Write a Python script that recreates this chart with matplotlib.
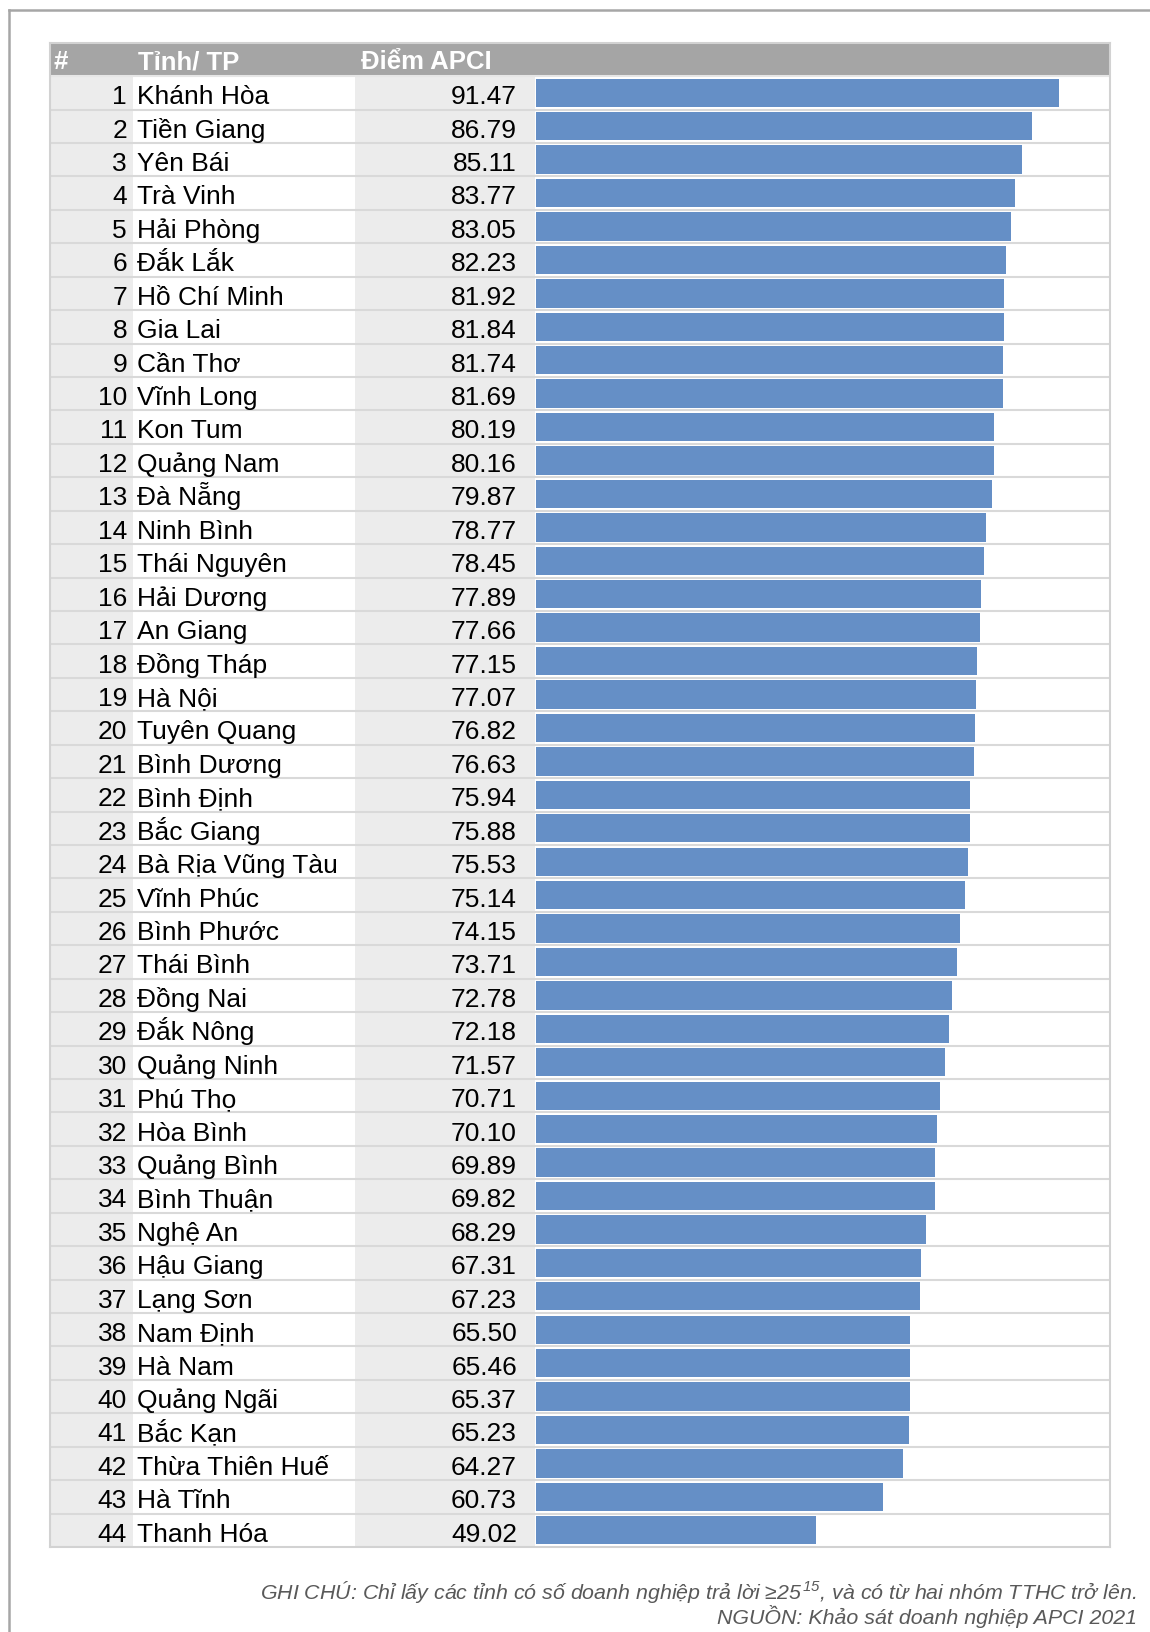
import matplotlib
matplotlib.use('Agg')
import matplotlib.pyplot as plt
from matplotlib.lines import Line2D

plt.rcParams['font.family'] = ['Liberation Sans', 'DejaVu Sans']
plt.rcParams['mathtext.fontset'] = 'custom'
plt.rcParams['mathtext.rm'] = 'Liberation Sans:italic'
plt.rcParams['mathtext.it'] = 'Liberation Sans:italic'

# data
headers = ['#', 'Tỉnh/ TP', 'Điểm APCI']
provinces = ['Khánh Hòa', 'Tiền Giang', 'Yên Bái', 'Trà Vinh', 'Hải Phòng', 'Đắk Lắk',
             'Hồ Chí Minh', 'Gia Lai', 'Cần Thơ', 'Vĩnh Long', 'Kon Tum', 'Quảng Nam',
             'Đà Nẵng', 'Ninh Bình', 'Thái Nguyên', 'Hải Dương', 'An Giang', 'Đồng Tháp',
             'Hà Nội', 'Tuyên Quang', 'Bình Dương', 'Bình Định', 'Bắc Giang', 'Bà Rịa Vũng Tàu',
             'Vĩnh Phúc', 'Bình Phước', 'Thái Bình', 'Đồng Nai', 'Đắk Nông', 'Quảng Ninh',
             'Phú Thọ', 'Hòa Bình', 'Quảng Bình', 'Bình Thuận', 'Nghệ An', 'Hậu Giang',
             'Lạng Sơn', 'Nam Định', 'Hà Nam', 'Quảng Ngãi', 'Bắc Kạn', 'Thừa Thiên Huế',
             'Hà Tĩnh', 'Thanh Hóa']
scores = [91.47, 86.79, 85.11, 83.77, 83.05, 82.23, 81.92, 81.84, 81.74, 81.69,
          80.19, 80.16, 79.87, 78.77, 78.45, 77.89, 77.66, 77.15, 77.07, 76.82,
          76.63, 75.94, 75.88, 75.53, 75.14, 74.15, 73.71, 72.78, 72.18, 71.57,
          70.71, 70.10, 69.89, 69.82, 68.29, 67.31, 67.23, 65.50, 65.46, 65.37,
          65.23, 64.27, 60.73, 49.02]
ranks = list(range(1, len(scores) + 1))
note1 = 'GHI CHÚ: Chỉ lấy các tỉnh có số doanh nghiệp trả lời ≥25$^{\\,15}$, và có từ hai nhóm TTHC trở lên.'
note2 = 'NGUỒN: Khảo sát doanh nghiệp APCI 2021'

W, H = 1150, 1632
n = len(scores)
fig = plt.figure(figsize=(W / 100, H / 100), dpi=100)

tab_l, tab_r, tab_t, tab_b = 50, 1110, 42.7, 1547
bar_l = 536.4
box = [tab_l / W, 1 - tab_b / H, (tab_r - tab_l) / W, (tab_b - tab_t) / H]

# table background, grid, text
ax = fig.add_axes(box)
ax.set_xlim(tab_l, tab_r)
ax.set_ylim(n - 0.5, -1.5)
ax.axhspan(-1.5, -0.5, color='#a5a5a5', lw=0, zorder=0)
ax.fill_between([tab_l, 132.7], -0.5, n - 0.5, color='#ececec', lw=0, zorder=0)
ax.fill_between([355, 535], -0.5, n - 0.5, color='#ececec', lw=0, zorder=0)
for i in range(n - 1):
    ax.axhline(i + 0.5, color='#d9d9d9', lw=1.5, zorder=1)
ax.axhline(-0.5, color='#e6e6e6', lw=1.5, zorder=1)
ax.set_xticks([])
ax.set_yticks([])
for s in ax.spines.values():
    s.set_color('#d2d2d2')
    s.set_linewidth(1.5)

hx = [54, 138, 361]
for x, h in zip(hx, headers):
    ax.text(x, -0.713, h, color='white', fontsize=18.5, fontweight='bold',
            ha='left', va='baseline', zorder=3)

for i in range(n):
    y = i + 0.34
    ax.text(127, y, str(ranks[i]), fontsize=19, ha='right', va='baseline', zorder=3)
    ax.text(137, y, provinces[i], fontsize=19, ha='left', va='baseline', zorder=3)
    ax.text(517, y, f'{scores[i]:.2f}', fontsize=19, ha='right', va='baseline', zorder=3)

# bars
bx = fig.add_axes([bar_l / W, box[1], (tab_r - bar_l) / W, box[3]])
bx.patch.set_alpha(0)
bx.barh(range(n), scores, height=0.85, color='#658fc6', zorder=2)
bx.set_xlim(0, (tab_r - bar_l) / 5.71)
bx.set_ylim(n - 0.5, -1.5)
bx.axis('off')

# outer frame
fig.add_artist(Line2D([8.7 / W, 8.7 / W], [0, 1 - 10 / H], color='#a6a6a6', lw=1.8))
fig.add_artist(Line2D([8.7 / W, 1], [1 - 10 / H, 1 - 10 / H], color='#a6a6a6', lw=1.8))

fig.text(1137 / W, 1 - 1599 / H, note1, fontsize=15.4, style='italic', color='#595959',
         ha='right', va='baseline')
fig.text(1137 / W, 1 - 1624 / H, note2, fontsize=15.4, style='italic', color='#595959',
         ha='right', va='baseline')

fig.savefig('out.png', dpi=100)
